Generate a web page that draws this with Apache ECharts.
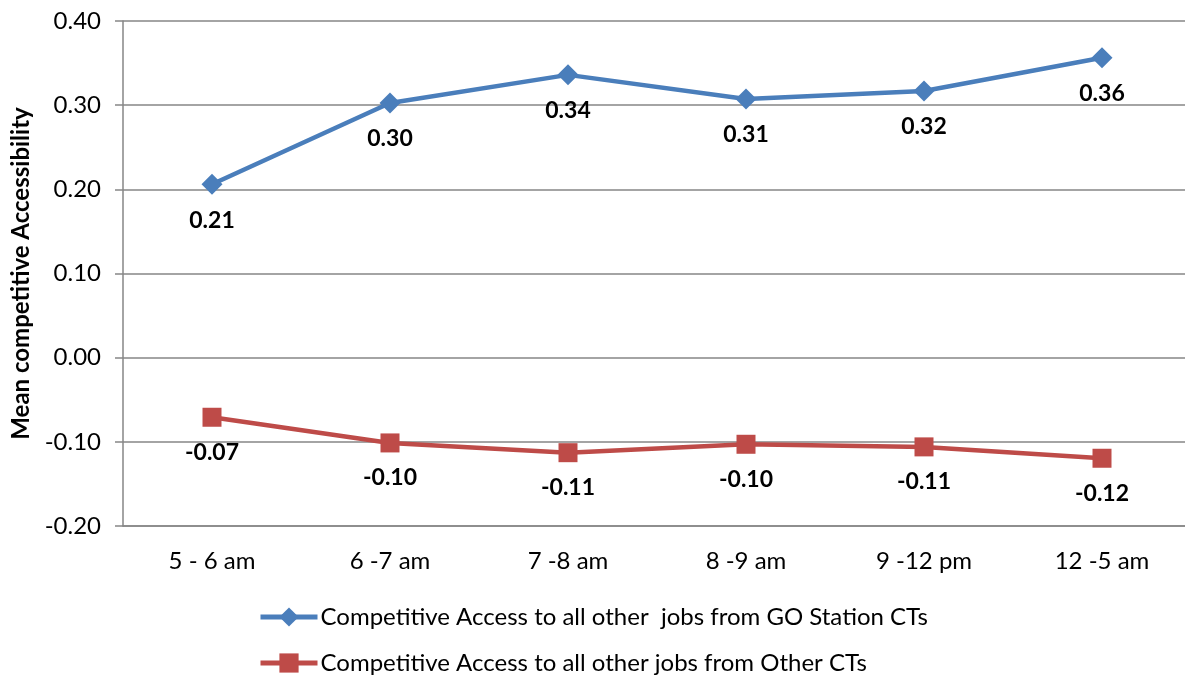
<!DOCTYPE html>
<html>
<head>
<meta charset="utf-8">
<script src="https://cdn.jsdelivr.net/npm/echarts@6/dist/echarts.min.js"></script>
<style>html,body{margin:0;padding:0;background:#fff}#c{width:1185px;height:679px}</style>
</head>
<body>
<div id="c"></div>
<script>
const categories = ['5 - 6 am', '6 -7 am', '7 -8 am', '8 -9 am', '9 -12 pm', '12 -5 am'];
const goStation = [0.206, 0.3026, 0.336, 0.3074, 0.3169, 0.3564];
const otherCTs = [-0.0708, -0.1013, -0.1129, -0.1029, -0.106, -0.1195];
const seriesNames = ['Competitive Access to all other  jobs from GO Station CTs', 'Competitive Access to all other jobs from Other CTs'];
const yAxisName = 'Mean competitive Accessibility';

const FONT = 'Lato, "Open Sans", sans-serif';
const chart = echarts.init(document.getElementById('c'));
const lbl = {
  show: true, position: 'bottom', distance: 14,
  fontFamily: FONT, fontWeight: 'bold', fontSize: 23, color: '#000',
  formatter: p => p.value.toFixed(2)
};
chart.setOption({
  animation: false,
  textStyle: {fontFamily: FONT},
  grid: {left: 123, top: 21, height: 505, width: 1068, containLabel: false, outerBoundsMode: 'none'},
  xAxis: {
    type: 'category', data: categories, boundaryGap: true,
    axisLine: {onZero: false, lineStyle: {color: '#868686', width: 1.5}},
    axisTick: {show: false},
    axisLabel: {fontFamily: FONT, fontSize: 24, color: '#000', margin: 23}
  },
  yAxis: {
    type: 'value', min: -0.2, max: 0.4, interval: 0.1,
    name: yAxisName, nameLocation: 'middle', nameGap: 90,
    nameTextStyle: {fontFamily: FONT, fontWeight: 'bold', fontSize: 24, color: '#000'},
    axisLine: {show: true, lineStyle: {color: '#868686', width: 1.5}},
    axisTick: {show: true, length: 8, lineStyle: {color: '#868686', width: 1.5}},
    splitLine: {lineStyle: {color: '#868686', width: 1.5}},
    axisLabel: {fontFamily: FONT, fontSize: 24, color: '#000', margin: 22, formatter: v => v.toFixed(2)}
  },
  legend: {
    orient: 'vertical', left: 258, top: 605, itemGap: 22, padding: 0,
    itemWidth: 57, itemHeight: 24,
    lineStyle: {width: 5},
    textStyle: {fontFamily: FONT, fontSize: 24, color: '#000', padding: [0, 0, 0, -2]},
    data: seriesNames
  },
  series: [
    {
      name: seriesNames[0], type: 'line', data: goStation,
      symbol: 'diamond', symbolSize: 21,
      lineStyle: {color: '#4a7ebb', width: 4.5},
      itemStyle: {color: '#4a7ebb'},
      label: lbl
    },
    {
      name: seriesNames[1], type: 'line', data: otherCTs,
      symbol: 'rect', symbolSize: 19,
      lineStyle: {color: '#be4b48', width: 4.5},
      itemStyle: {color: '#be4b48'},
      label: lbl
    }
  ]
});
</script>
</body>
</html>
